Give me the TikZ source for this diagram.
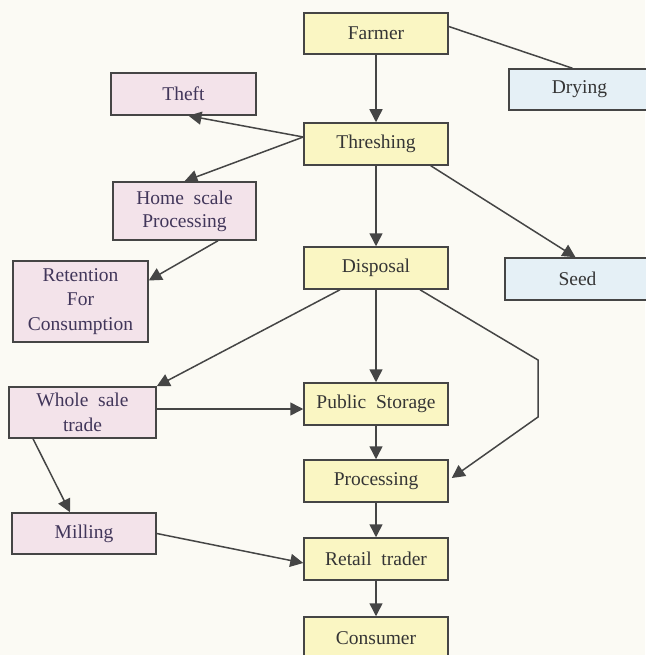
\documentclass[tikz,border=0pt]{standalone}
\usepackage{fontspec}
\setmainfont{Liberation Serif}
\usetikzlibrary{arrows.meta,calc}
\definecolor{bgc}{HTML}{FBFAF4}
\definecolor{yfill}{HTML}{FAF6C3}
\definecolor{pfill}{HTML}{F3E3EA}
\definecolor{bfill}{HTML}{E5F0F6}
\definecolor{edgec}{HTML}{454545}
\definecolor{ytext}{HTML}{353535}
\definecolor{ptext}{HTML}{41365A}
\tikzset{
  box/.style={draw=edgec, line width=1.5pt, rectangle, inner sep=0pt, align=center,
    font=\fontsize{19.5}{22}\selectfont},
  ybox/.style={box, fill=yfill, text=ytext},
  pbox/.style={box, fill=pfill, text=ptext},
  bbox/.style={box, fill=bfill, text=ytext},
  conn/.style={draw=edgec, line width=1.5pt},
  arr/.style={conn, -{Triangle[length=13pt,width=13pt]}},
}
\begin{document}
\begin{tikzpicture}[x=1pt,y=-1pt]
\fill[bgc] (0,0) rectangle (645,655);
\useasboundingbox (0,0) rectangle (645,655);
% nodes
\node[ybox, minimum width=144pt, minimum height=41pt] (farmer) at (376,33.5) {Farmer};
\node[bbox, minimum width=141pt, minimum height=41pt] (drying) at (579.5,89.5) {Drying};
\node[pbox, minimum width=145pt, minimum height=42pt] (theft) at (183.5,94) {Theft};
\node[ybox, minimum width=144pt, minimum height=42pt] (thresh) at (376,144) {Threshing};
\node[pbox, minimum width=143pt, minimum height=58pt, font=\fontsize{19.5}{23}\selectfont] (home) at (184.5,211) {Home\ \ scale\\Processing};
\node[ybox, minimum width=144pt, minimum height=42pt] (disposal) at (376,268) {Disposal};
\node[bbox, minimum width=145pt, minimum height=42pt] (seed) at (577.5,279) {Seed};
\node[pbox, minimum width=135pt, minimum height=81pt, font=\fontsize{19.5}{24.5}\selectfont] (retention) at (80.5,301.5) {Retention\\For\\Consumption};
\node[pbox, minimum width=147pt, minimum height=51pt, font=\fontsize{19.5}{25}\selectfont] (whole) at (82.5,412.5) {Whole\ \ sale\\trade};
\node[ybox, minimum width=144pt, minimum height=42pt] (public) at (376,404) {Public\ \ Storage};
\node[ybox, minimum width=144pt, minimum height=42pt] (processing) at (376,481) {Processing};
\node[pbox, minimum width=144pt, minimum height=41pt] (milling) at (84,533.5) {Milling};
\node[ybox, minimum width=144pt, minimum height=42pt] (retail) at (376,559) {Retail\ \ trader};
\node[ybox, minimum width=144pt, minimum height=43pt] (consumer) at (376,638.5) {Consumer};
% connectors
\draw[arr] (farmer.south) -- (thresh.north);
\draw[conn] ([yshift=7pt]farmer.east) -- ([xshift=-7pt]drying.north);
\draw[arr] ([yshift=7pt]thresh.west) -- ([xshift=5pt]theft.south);
\draw[arr] ([yshift=7pt]thresh.west) -- (home.north);
\draw[arr] ([xshift=-18pt]thresh.south east) -- ([xshift=-2pt]seed.north);
\draw[arr] (thresh.south) -- (disposal.north);
\draw[arr] ([xshift=33.5pt]home.south) -- ([yshift=21pt]retention.east);
\draw[arr] ([xshift=-36pt]disposal.south) -- (whole.north east);
\draw[arr] (disposal.south) -- (public.north);
\draw[arr] ([xshift=44pt]disposal.south) -- (538,360) -- (538,417) -- ([xshift=3pt,yshift=3pt]processing.east);
\draw[arr] ([yshift=3.5pt]whole.east) -- ([yshift=-5pt]public.west);
\draw[arr] ([xshift=-49.5pt]whole.south) -- ([xshift=-14pt]milling.north);
\draw[arr] (public.south) -- (processing.north);
\draw[arr] (milling.east) -- ([yshift=-4pt]retail.west);
\draw[arr] (processing.south) -- (retail.north);
\draw[arr] (retail.south) -- (consumer.north);
\end{tikzpicture}
\end{document}
